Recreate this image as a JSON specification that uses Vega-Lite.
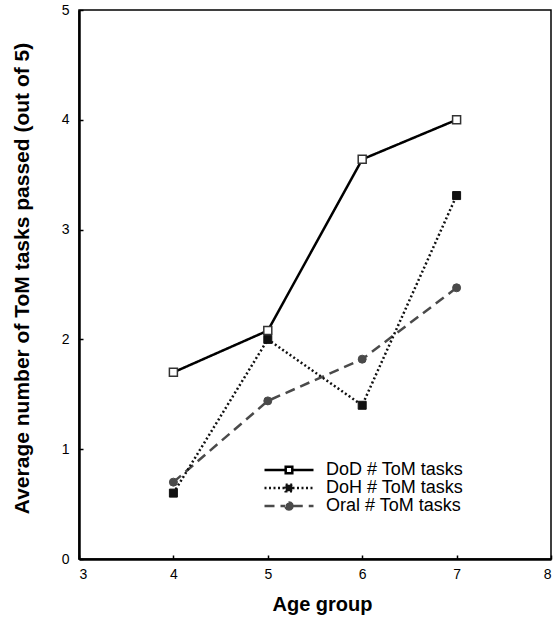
{
  "$schema": "https://vega.github.io/schema/vega-lite/v6.json",
  "width": 472,
  "height": 549,
  "autosize": {"type": "none"},
  "padding": {"left": 79, "top": 10, "right": 2, "bottom": 60},
  "background": "white",
  "config": {
    "view": {"stroke": "black", "strokeWidth": 1.5},
    "font": "Liberation Sans",
    "axis": {
      "grid": false,
      "domainColor": "black",
      "domainWidth": 2.5,
      "tickColor": "black",
      "tickWidth": 1.5,
      "tickSize": -4,
      "labelFont": "Liberation Sans",
      "labelFontSize": 14,
      "labelColor": "black",
      "titleFont": "Liberation Sans",
      "titleFontWeight": "bold",
      "titleColor": "black"
    }
  },
  "data": {
    "values": [
      {"age": 4, "score": 0.70, "series": "Oral # ToM tasks"},
      {"age": 5, "score": 1.44, "series": "Oral # ToM tasks"},
      {"age": 6, "score": 1.82, "series": "Oral # ToM tasks"},
      {"age": 7, "score": 2.47, "series": "Oral # ToM tasks"},
      {"age": 4, "score": 0.60, "series": "DoH # ToM tasks"},
      {"age": 5, "score": 2.00, "series": "DoH # ToM tasks"},
      {"age": 6, "score": 1.40, "series": "DoH # ToM tasks"},
      {"age": 7, "score": 3.31, "series": "DoH # ToM tasks"},
      {"age": 4, "score": 1.70, "series": "DoD # ToM tasks"},
      {"age": 5, "score": 2.08, "series": "DoD # ToM tasks"},
      {"age": 6, "score": 3.64, "series": "DoD # ToM tasks"},
      {"age": 7, "score": 4.00, "series": "DoD # ToM tasks"}
    ]
  },
  "encoding": {
    "x": {
      "field": "age", "type": "quantitative",
      "scale": {"domain": [3, 8], "nice": false, "zero": false},
      "axis": {"values": [3, 4, 5, 6, 7, 8], "format": "d", "title": "Age group", "labelPadding": 12, "titlePadding": 13, "titleFontSize": 20, "titleX": 243}
    },
    "y": {
      "field": "score", "type": "quantitative",
      "scale": {"domain": [0, 5], "nice": false},
      "axis": {"values": [0, 1, 2, 3, 4, 5], "format": "d", "title": "Average number of ToM tasks passed (out of 5)", "labelPadding": 14, "titlePadding": 29, "titleFontSize": 21, "titleY": 268}
    }
  },
  "layer": [
    {
      "mark": {"type": "line", "strokeWidth": 2.5},
      "encoding": {
        "color": {
          "field": "series", "type": "nominal",
          "scale": {"domain": ["DoD # ToM tasks", "DoH # ToM tasks", "Oral # ToM tasks"], "range": ["#000000", "#111111", "#4a4a4a"]},
          "legend": {
            "title": null,
            "orient": "none",
            "legendX": 201,
            "legendY": 451,
            "padding": 0,
            "symbolType": "M-4.9,0L-0.7,0M0.7,0L4.9,0M-0.66,-0.66L0.66,-0.66L0.66,0.66L-0.66,0.66Z",
            "symbolSize": 100,
            "symbolStrokeWidth": 2.5,
            "labelOffset": 28,
            "labelFontSize": 18,
            "labelFont": "Liberation Sans",
            "labelColor": "black",
            "rowPadding": -1.1,
            "encode": {
              "symbols": {
                "update": {
                  "shape": {"signal": "datum.value === 'Oral # ToM tasks' ? 'M-4.9,0L-0.75,0M0.75,0L4.9,0M0.7,0L0.606,0.35L0.35,0.606L0,0.7L-0.35,0.606L-0.606,0.35L-0.7,0L-0.606,-0.35L-0.35,-0.606L0,-0.7L0.35,-0.606L0.606,-0.35Z' : 'M-4.9,0L-0.7,0M0.7,0L4.9,0M-0.66,-0.66L0.66,-0.66L0.66,0.66L-0.66,0.66Z'"},
                  "fill": {"signal": "datum.value === 'DoD # ToM tasks' ? 'white' : datum.value === 'DoH # ToM tasks' ? '#111111' : '#4a4a4a'"},
                  "fillOpacity": {"value": 1},
                  "strokeWidth": {"value": 2.5}
                }
              }
            }
          }
        },
        "strokeDash": {
          "field": "series", "type": "nominal",
          "scale": {"domain": ["DoD # ToM tasks", "DoH # ToM tasks", "Oral # ToM tasks"], "range": [[1, 0], [2, 2.5], [10, 6]]},
          "legend": {
            "title": null,
            "orient": "none",
            "legendX": 201,
            "legendY": 451
          }
        }
      }
    },
    {
      "transform": [{"filter": "datum.series === 'Oral # ToM tasks'"}],
      "mark": {"type": "point", "shape": "circle", "filled": true, "fill": "#4a4a4a", "stroke": "#4a4a4a", "strokeWidth": 1, "opacity": 1, "size": 64}
    },
    {
      "transform": [{"filter": "datum.series === 'DoH # ToM tasks'"}],
      "mark": {"type": "point", "shape": "square", "filled": true, "fill": "#111111", "stroke": "#111111", "strokeWidth": 1, "opacity": 1, "size": 64}
    },
    {
      "transform": [{"filter": "datum.series === 'DoD # ToM tasks'"}],
      "mark": {"type": "point", "shape": "square", "filled": true, "fill": "#ffffff", "stroke": "#333333", "strokeWidth": 1.5, "opacity": 1, "size": 64}
    }
  ]
}
